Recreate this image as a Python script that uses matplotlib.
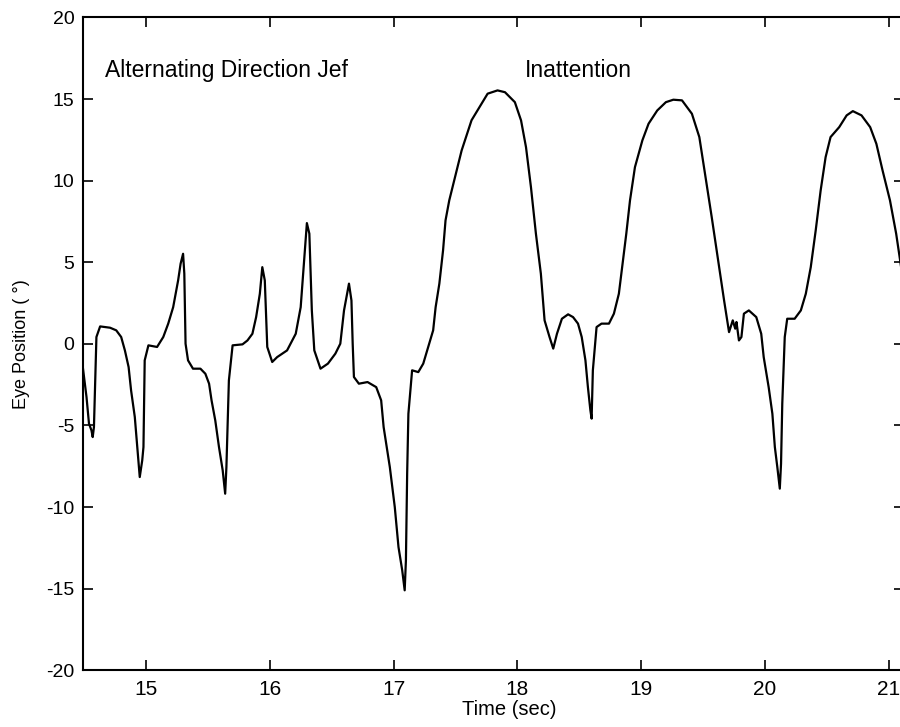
import matplotlib
matplotlib.use("Agg")
import matplotlib.pyplot as plt

plt.rcParams['font.family'] = ['Liberation Sans', 'DejaVu Sans']
plt.rcParams['axes.unicode_minus'] = False

# eye position trace (time in sec, position in deg)
time_sec = [14.49, 14.52, 14.54, 14.56, 14.57, 14.58, 14.59, 14.60, 14.63, 14.71,
            14.76, 14.80, 14.83, 14.86, 14.88, 14.91, 14.93, 14.95, 14.97, 14.98,
            14.99, 15.02, 15.09, 15.14, 15.18, 15.22, 15.26, 15.28, 15.30, 15.31,
            15.32, 15.34, 15.38, 15.44, 15.48, 15.51, 15.53, 15.56, 15.59, 15.62,
            15.64, 15.65, 15.67, 15.70, 15.78, 15.82, 15.86, 15.89, 15.92, 15.94,
            15.96, 15.98, 16.02, 16.06, 16.14, 16.21, 16.25, 16.28, 16.30, 16.32,
            16.34, 16.36, 16.41, 16.47, 16.53, 16.57, 16.60, 16.63, 16.64, 16.66,
            16.67, 16.68, 16.72, 16.79, 16.86, 16.90, 16.92, 16.97, 17.01, 17.04,
            17.07, 17.09, 17.10, 17.11, 17.12, 17.15, 17.20, 17.24, 17.28, 17.32,
            17.34, 17.37, 17.40, 17.42, 17.45, 17.55, 17.63, 17.71, 17.76, 17.84,
            17.90, 17.98, 18.03, 18.07, 18.11, 18.15, 18.19, 18.22, 18.26, 18.29,
            18.32, 18.36, 18.41, 18.45, 18.49, 18.52, 18.55, 18.57, 18.59, 18.60,
            18.61, 18.64, 18.68, 18.74, 18.78, 18.82, 18.84, 18.88, 18.91, 18.95,
            19.01, 19.06, 19.13, 19.20, 19.26, 19.33, 19.41, 19.47, 19.52, 19.57,
            19.63, 19.67, 19.71, 19.74, 19.76, 19.77, 19.79, 19.81, 19.83, 19.87,
            19.93, 19.97, 19.99, 20.03, 20.06, 20.08, 20.10, 20.12, 20.13, 20.14,
            20.16, 20.18, 20.24, 20.29, 20.33, 20.37, 20.41, 20.45, 20.49, 20.53,
            20.60, 20.66, 20.71, 20.78, 20.85, 20.90, 20.95, 21.01, 21.06, 21.10,
            21.12]
eye_pos = [-1.42, -3.26, -4.89, -5.30, -5.71, -5.10, -2.24, 0.42, 1.07, 0.99,
           0.83, 0.42, -0.40, -1.42, -2.85, -4.48, -6.32, -8.16, -7.14, -6.32,
           -1.01, -0.09, -0.19, 0.42, 1.24, 2.25, 3.89, 4.91, 5.52, 4.30,
           0.01, -1.01, -1.52, -1.52, -1.83, -2.44, -3.46, -4.69, -6.32, -7.75,
           -9.18, -7.55, -2.24, -0.09, -0.03, 0.21, 0.62, 1.64, 3.07, 4.70,
           3.89, -0.19, -1.11, -0.81, -0.40, 0.62, 2.25, 5.32, 7.40, 6.75,
           2.05, -0.40, -1.52, -1.21, -0.60, 0.01, 2.05, 3.28, 3.69, 2.66,
           0.01, -2.03, -2.44, -2.34, -2.65, -3.46, -5.10, -7.55, -10.00, -12.45,
           -13.87, -15.10, -13.26, -7.95, -4.28, -1.62, -1.73, -1.21, -0.19, 0.83,
           2.25, 3.69, 5.73, 7.57, 8.79, 11.85, 13.70, 14.71, 15.33, 15.53,
           15.42, 14.81, 13.69, 12.05, 9.60, 6.75, 4.30, 1.44, 0.42, -0.29,
           0.62, 1.54, 1.81, 1.64, 1.24, 0.42, -1.01, -2.65, -4.07, -4.58,
           -1.62, 1.03, 1.24, 1.24, 1.85, 3.07, 4.30, 6.75, 8.79, 10.83,
           12.47, 13.49, 14.30, 14.81, 14.96, 14.92, 14.10, 12.67, 10.22, 7.77,
           4.70, 2.66, 0.72, 1.44, 0.93, 1.34, 0.21, 0.42, 1.85, 2.05,
           1.64, 0.62, -0.81, -2.65, -4.28, -6.32, -7.55, -8.87, -7.34, -3.66,
           0.42, 1.54, 1.54, 2.05, 3.07, 4.70, 6.95, 9.40, 11.44, 12.67,
           13.28, 14.00, 14.26, 14.00, 13.28, 12.26, 10.63, 8.79, 6.75, 4.70,
           3.48]

x_ticks = [15, 16, 17, 18, 19, 20, 21]
y_ticks = [-20, -15, -10, -5, 0, 5, 10, 15, 20]

fig = plt.figure(figsize=(9, 7.27), dpi=100)
ax = fig.add_axes([0.092, 0.078, 0.912, 0.898])

ax.plot(time_sec, eye_pos, color='black', lw=1.6)

ax.set_xlim(14.49, 21.12)
ax.set_ylim(-20, 20)
ax.set_xticks(x_ticks)
ax.set_yticks(y_ticks)
ax.tick_params(direction='in', length=7, width=1.2, top=True, right=True)
ax.tick_params(axis='x', labelsize=15, pad=7)
ax.tick_params(axis='y', labelsize=14, pad=6)
for s in ax.spines.values():
    s.set_linewidth(1.5)

ax.set_xlabel('Time (sec)', fontsize=14.5, labelpad=0)
ax.xaxis.set_label_coords(0.52, -0.045)
ax.set_ylabel('Eye Position ( °)', fontsize=13, labelpad=12)

ax.text(14.67, 16.75, 'Alternating Direction Jef', fontsize=16.5, va='center')
ax.text(18.06, 16.75, 'Inattention', fontsize=16.5, va='center')

fig.savefig('out.png', dpi=100)
